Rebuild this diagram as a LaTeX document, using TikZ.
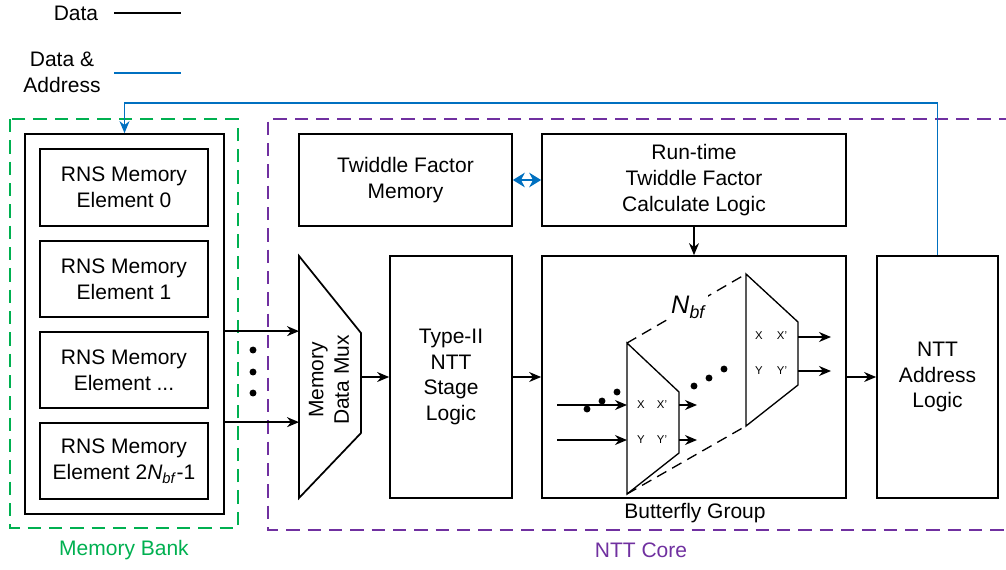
\documentclass[tikz,border=0pt]{standalone}
\usepackage{fontspec}
\setmainfont{Liberation Sans}
\usetikzlibrary{fit,arrows.meta}
\tikzset{>={Stealth[length=9pt,width=7.5pt]}}
\definecolor{bankgreen}{RGB}{0,176,80}
\definecolor{corepurple}{RGB}{112,48,160}
\definecolor{addrblue}{RGB}{0,112,192}
\tikzset{
  txt/.style={font=\fontsize{15.75}{19.3}\selectfont, align=center, inner sep=1pt},
  blk/.style={draw, line width=1.3pt, inner sep=0pt},
  pinlbl/.style={font=\fontsize{8.5}{10}\selectfont, inner sep=0pt},
  grp/.style={line width=1.5pt, dash pattern=on 10pt off 6pt},
  dat/.style={->, line width=1pt},
  bfline/.style={line width=1pt, line join=miter},
  ghost/.style={bfline, dash pattern=on 8pt off 5pt},
}

\begin{document}
\begin{tikzpicture}[x=0.75pt, y=-0.75pt]
  \useasboundingbox (0,0) rectangle (1006,569);

  \node[txt] (ldata) at (76,13) {Data};
  \coordinate (ld1) at (114,13);
  \coordinate (ld2) at (181,13);
  \draw[line width=1pt] (ld1) -- (ld2);
  \node[txt] (laddr) at (62,72) {Data \&\\Address};
  \coordinate (la1) at (114,73);
  \coordinate (la2) at (181,73);
  \draw[addrblue, line width=1pt] (la1) -- (la2);

  \draw[grp, bankgreen] (10,119) rectangle (238,528);
  \node[txt, bankgreen] (lbank) at (124,550) {Memory Bank};
  \draw[grp, corepurple] (1012,119) -- (268,119) -- (268,530) -- (1012,530);
  \node[txt, corepurple] (lcore) at (641,550) {NTT Core};

  \node[blk, fit={(25,134) (224,514)}] (bank) {};
  \node[blk, fit={(40,149) (208,226)}] (mem0) {};
  \node[blk, fit={(40,241) (208,317)}] (mem1) {};
  \node[blk, fit={(40,332) (208,408)}] (memx) {};
  \node[blk, fit={(40,423) (208,499)}] (memn) {};
  \node[txt] (tmem0) at (mem0.center) {RNS Memory\\Element 0};
  \node[txt] (tmem1) at (mem1.center) {RNS Memory\\Element 1};
  \node[txt] (tmemx) at (memx.center) {RNS Memory\\Element ...};
  \node[txt] (tmemn) at (memn.center) {RNS Memory\\Element 2\textit{N}\textsubscript{\textit{bf}}-1};

  \node[blk, fit={(299,134) (512,226)}] (twid) {};
  \node[blk, fit={(542,134) (846,226)}] (rtime) {};
  \node[blk, fit={(390,256) (512,498)}] (stage) {};
  \node[blk, fit={(542,256) (846,498)}] (bfly) {};
  \node[blk, fit={(877,256) (998,498)}] (addr) {};
  \node[txt] (ttwid) at (twid.center) {Twiddle Factor\\Memory};
  \node[txt] (trtime) at (rtime.center) {Run-time\\Twiddle Factor\\Calculate Logic};
  \node[txt] (tstage) at (stage.center) {Type-II\\NTT\\Stage\\Logic};
  \node[txt] (taddr) at (addr.center) {NTT\\Address\\Logic};
  \node[txt] (lbfly) at (695,513) {Butterfly Group};

  \coordinate (mux1) at (299,256);
  \coordinate (mux2) at (361,333);
  \coordinate (mux3) at (361,433);
  \coordinate (mux4) at (299,498);
  \draw[line width=1.3pt, line join=miter] (mux1) -- (mux2) -- (mux3) -- (mux4) -- cycle;
  \node[txt, rotate=90] (lmux) at (329,380) {Memory\\Data Mux};

  \draw[dat] (memx.north -| bank.east) -- (memx.north -| mux1);
  \draw[dat] (memn.north -| bank.east) -- (memn.north -| mux1);
  \fill (253,350) circle (2.6pt);
  \fill (253,372) circle (2.6pt);
  \fill (253,393) circle (2.6pt);

  \draw[dat] (stage.west -| mux2) -- (stage.west);
  \draw[dat] (stage.east) -- (bfly.west);
  \draw[dat] (bfly.east) -- (addr.west);
  \draw[dat] (rtime.south) -- (bfly.north);
  \draw[{Stealth[length=9pt,width=11pt]}-{Stealth[length=9pt,width=11pt]}, addrblue, line width=1pt] (twid.east) -- (rtime.west);
  \coordinate (fb) at (125,103);
  \draw[->, addrblue, line width=1.2pt] (addr.north) |- (bank.north |- fb) -- (bank.north);

  \coordinate (bfa1) at (627,343);
  \coordinate (bfa2) at (679,392);
  \coordinate (bfa3) at (679,453);
  \coordinate (bfa4) at (627,494);
  \coordinate (bfb1) at (746,274);
  \coordinate (bfb2) at (798,322);
  \coordinate (bfb3) at (798,385);
  \coordinate (bfb4) at (746,426);
  \draw[bfline] (bfa1) -- (bfa2) -- (bfa3) -- (bfa4) -- cycle;
  \draw[bfline] (bfb1) -- (bfb2) -- (bfb3) -- (bfb4) -- cycle;
  \draw[ghost] (bfa1) -- node[txt, font=\fontsize{19}{22}\selectfont, fill=white, pos=0.52] (lnbf) {\textit{N}\textsubscript{\textit{bf}}} (bfb1);
  \draw[ghost] (bfa4) -- (bfb4);

  \node[pinlbl] (xa) at (641,405) {X};
  \node[pinlbl] (xpa) at (662,405) {X'};
  \node[pinlbl] (ya) at (641,440) {Y};
  \node[pinlbl] (ypa) at (662,440) {Y'};
  \node[pinlbl] (xb) at (759,336) {X};
  \node[pinlbl] (xpb) at (782,336) {X'};
  \node[pinlbl] (yb) at (759,371) {Y};
  \node[pinlbl] (ypb) at (782,371) {Y'};

  \coordinate (ina1) at (557,405);
  \coordinate (ina2) at (557,440);
  \coordinate (outa1) at (697,405);
  \coordinate (outa2) at (697,440);
  \coordinate (outb1) at (831,337);
  \coordinate (outb2) at (831,371);
  \draw[dat] (ina1) -- (ina1 -| bfa1);
  \draw[dat] (ina2) -- (ina2 -| bfa1);
  \draw[dat] (outa1 -| bfa2) -- (outa1);
  \draw[dat] (outa2 -| bfa2) -- (outa2);
  \draw[dat] (outb1 -| bfb2) -- (outb1);
  \draw[dat] (outb2 -| bfb2) -- (outb2);

  \fill (587,409) circle (2.6pt);
  \fill (602,401) circle (2.6pt);
  \fill (617,392) circle (2.6pt);
  \fill (694,386) circle (2.6pt);
  \fill (709,378) circle (2.6pt);
  \fill (724,369) circle (2.6pt);
\end{tikzpicture}
\end{document}
